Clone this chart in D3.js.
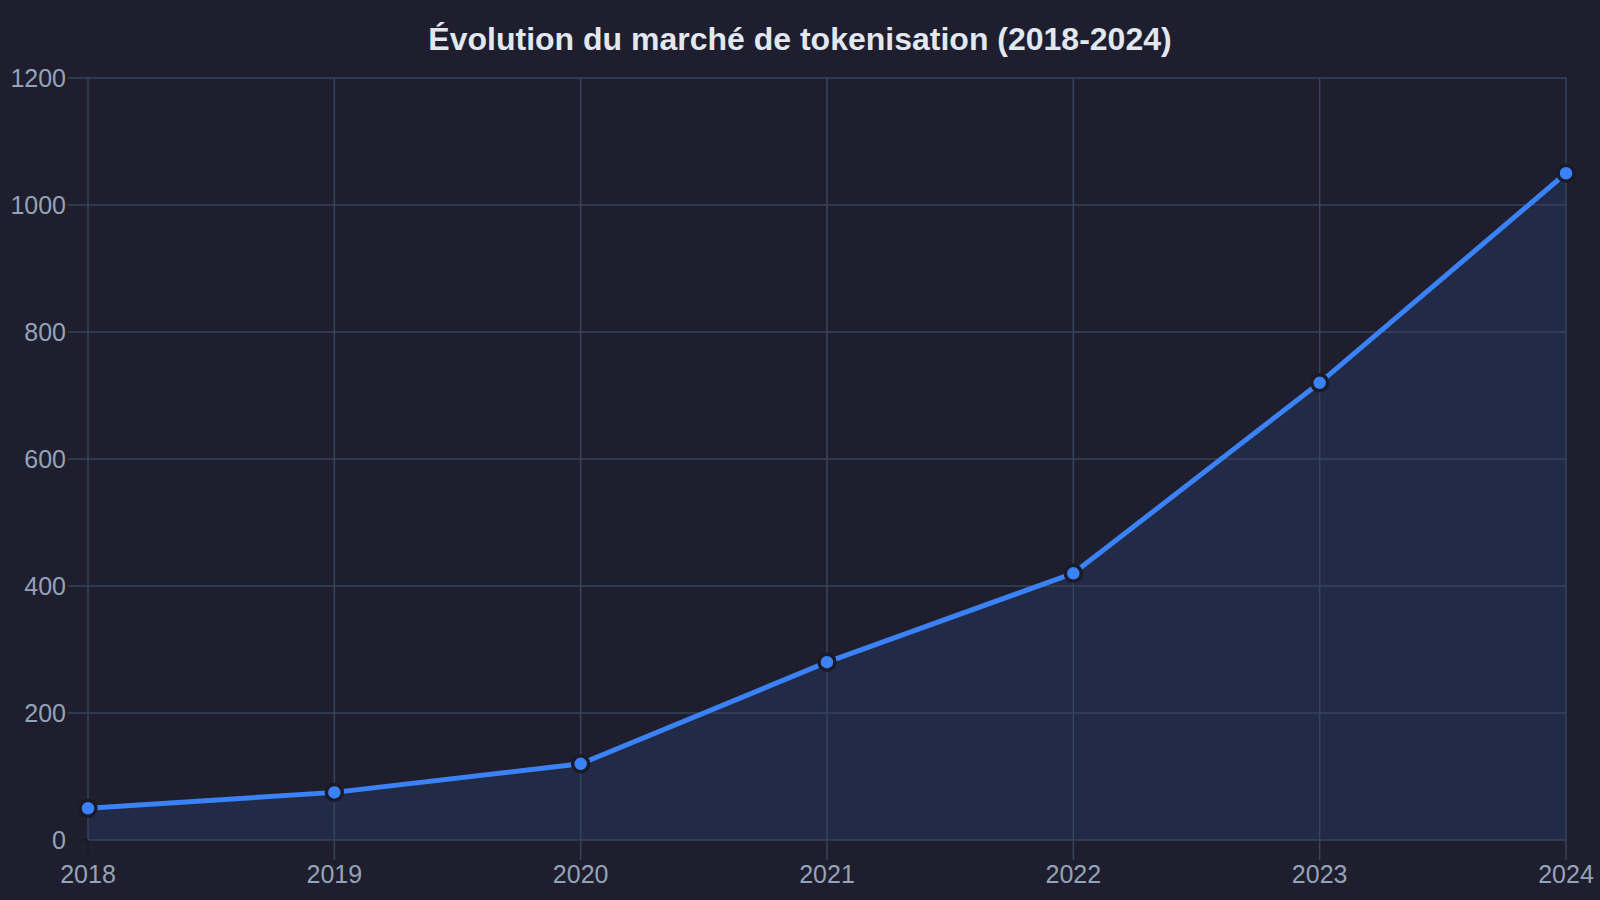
<!DOCTYPE html>
<html>
<head>
<meta charset="utf-8">
<script src="https://cdn.jsdelivr.net/npm/d3@7"></script>
<style>
  html, body { margin: 0; padding: 0; background: #1e1e2e; }
  svg { display: block; }
</style>
</head>
<body>
<svg id="chart"></svg>
<script>
// data
var years = ["2018", "2019", "2020", "2021", "2022", "2023", "2024"];
var marketValues = [50, 75, 120, 280, 420, 720, 1050];
var yTicks = [0, 200, 400, 600, 800, 1000, 1200];
var chartTitle = "Évolution du marché de tokenisation (2018-2024)";

var dimensions = {
  width: 1600,
  height: 900,
  margin: { top: 78, bottom: 60, right: 34, left: 88 }
}
var w = dimensions.width - dimensions.margin.left - dimensions.margin.right
var h = dimensions.height - dimensions.margin.top - dimensions.margin.bottom

var svg = d3.select("#chart")
  .attr("width", dimensions.width)
  .attr("height", dimensions.height)
  .style("font-family", "'Liberation Sans', Arial, sans-serif")

svg.append("rect")
  .attr("width", dimensions.width)
  .attr("height", dimensions.height)
  .attr("fill", "#1e1e2e")

svg.append("text")
  .text(chartTitle)
  .attr("x", dimensions.width / 2)
  .attr("y", 50)
  .attr("text-anchor", "middle")
  .attr("fill", "#e2e8f0")
  .style("font-size", "32px")
  .style("font-weight", "bold")

var g = svg.append("g")
  .attr("transform", "translate(" + dimensions.margin.left + "," + dimensions.margin.top + ")")

var x = d3.scalePoint().domain(years).range([0, w])
var y = d3.scaleLinear().domain([0, 1200]).range([h, 0])

var data = years.map((yr, i) => ({ year: yr, value: marketValues[i] }))

// area under the line
var area = d3.area()
  .x(d => x(d.year))
  .y0(h)
  .y1(d => y(d.value))

g.append("path")
  .datum(data)
  .attr("d", area)
  .attr("fill", "#3b82f6")
  .attr("opacity", 0.12)

// grid lines (they run out past the plot a bit, like ticks)
yTicks.forEach(t =>
  g.append("line")
    .attr("x1", -20)
    .attr("x2", w)
    .attr("y1", y(t))
    .attr("y2", y(t))
    .attr("stroke", "#36455a")
    .attr("stroke-width", 1.5)
)
years.forEach(yr =>
  g.append("line")
    .attr("x1", x(yr))
    .attr("x2", x(yr))
    .attr("y1", 0)
    .attr("y2", h + 20)
    .attr("stroke", "#36455a")
    .attr("stroke-width", 1.5)
)

// the outer ticks at the origin are darker
g.append("line")
  .attr("x1", -20).attr("x2", 0)
  .attr("y1", y(0)).attr("y2", y(0))
  .attr("stroke", "#14141c").attr("stroke-width", 1.5)
g.append("line")
  .attr("x1", x(years[0])).attr("x2", x(years[0]))
  .attr("y1", h).attr("y2", h + 20)
  .attr("stroke", "#14141c").attr("stroke-width", 1.5)

// tick labels
yTicks.forEach(t =>
  g.append("text")
    .attr("x", -22)
    .attr("y", y(t))
    .attr("dy", "0.35em")
    .attr("text-anchor", "end")
    .attr("fill", "#94a3b8")
    .style("font-size", "25px")
    .text(t)
)
years.forEach(yr =>
  g.append("text")
    .attr("x", x(yr))
    .attr("y", h + 43)
    .attr("text-anchor", "middle")
    .attr("fill", "#94a3b8")
    .style("font-size", "25px")
    .text(yr)
)

// the line itself
var line = d3.line()
  .x(d => x(d.year))
  .y(d => y(d.value))

g.append("path")
  .datum(data)
  .attr("d", line)
  .attr("fill", "none")
  .attr("stroke", "#3b82f6")
  .attr("stroke-width", 5)

g.selectAll("circle.pt")
  .data(data)
  .enter()
  .append("circle")
  .attr("class", "pt")
  .attr("cx", d => x(d.year))
  .attr("cy", d => y(d.value))
  .attr("r", 8)
  .attr("fill", "#3b82f6")
  .attr("stroke", "#1a1a28")
  .attr("stroke-width", 3.5)
</script>
</body>
</html>
